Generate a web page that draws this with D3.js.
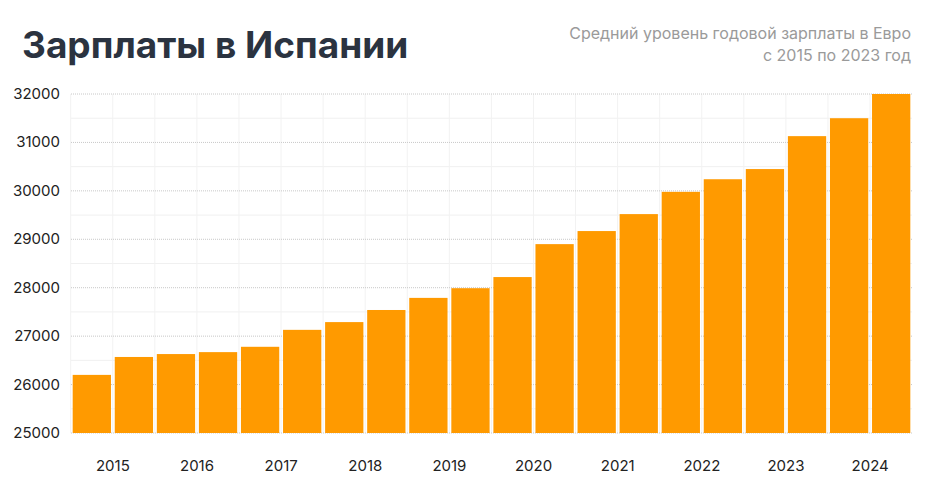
<!DOCTYPE html>
<html><head><meta charset="utf-8">
<script src="https://cdn.jsdelivr.net/npm/d3@7"></script>
<style>body{margin:0;background:#fff;font-family:Inter,"Noto Sans",sans-serif}</style>
</head><body><svg id="chart" width="935" height="486"></svg>
<script>
const periods = d3.range(20).map(i => 'p' + i);
const values = [26200, 26570, 26630, 26670, 26780, 27130, 27290, 27540, 27790, 27990,
  28220, 28900, 29170, 29520, 29980, 30240, 30450, 31130, 31500, 32000];
const years = ['2015','2016','2017','2018','2019','2020','2021','2022','2023','2024'];
const yTicks = [25000, 26000, 27000, 28000, 29000, 30000, 31000, 32000];

let svg = d3.select('#chart');
let x = d3.scaleBand().domain(periods).range([71, 912]).paddingInner(0.09).paddingOuter(0.04);
let y = d3.scaleLinear().domain([25000, 32000]).range([433, 94]);

// faint minor grid
svg.append('g').selectAll('line').data(d3.range(25500, 32000, 1000)).enter().append('line')
  .attr('x1', 71).attr('x2', 912).attr('y1', d => y(d)).attr('y2', d => y(d))
  .attr('stroke', '#f0f0f0');
svg.append('g').selectAll('line').data(periods).enter().append('line')
  .attr('x1', d => x(d) - 2).attr('x2', d => x(d) - 2).attr('y1', 94).attr('y2', 433)
  .attr('stroke', '#f2f2f2');
svg.append('g').selectAll('line').data(yTicks).enter().append('line')
  .attr('x1', 71).attr('x2', 912).attr('y1', d => y(d)).attr('y2', d => y(d))
  .attr('stroke', '#c8c8c8').attr('stroke-dasharray', '1,1');

svg.append('g').selectAll('rect').data(values).enter().append('rect')
  .attr('x', (d, i) => x(periods[i])).attr('width', x.bandwidth())
  .attr('y', d => y(d)).attr('height', d => y(25000) - y(d))
  .attr('fill', '#ff9a00');

svg.selectAll('.yl').data(yTicks).enter().append('text')
  .attr('x', 60).attr('y', d => y(d) + 5).attr('text-anchor', 'end')
  .attr('font-size', 15).attr('fill', '#222').text(d => d);

svg.selectAll('.xl').data(years).enter().append('text')
  .attr('x', (d, i) => (x(periods[2 * i]) + x(periods[2 * i + 1]) + x.bandwidth()) / 2)
  .attr('y', 471).attr('text-anchor', 'middle')
  .attr('font-size', 15).attr('fill', '#222').text(d => d);

svg.append('text').attr('x', 22).attr('y', 58).attr('font-size', 37).attr('font-weight', 700)
  .attr('fill', '#2b3340').text('Зарплаты в Испании');
svg.append('text').attr('x', 911).attr('y', 39).attr('text-anchor', 'end')
  .attr('font-size', 16).attr('fill', '#9a9a9a').text('Средний уровень годовой зарплаты в Евро');
svg.append('text').attr('x', 911).attr('y', 61).attr('text-anchor', 'end')
  .attr('font-size', 16).attr('fill', '#9a9a9a').text('с 2015 по 2023 год');
</script></body></html>
